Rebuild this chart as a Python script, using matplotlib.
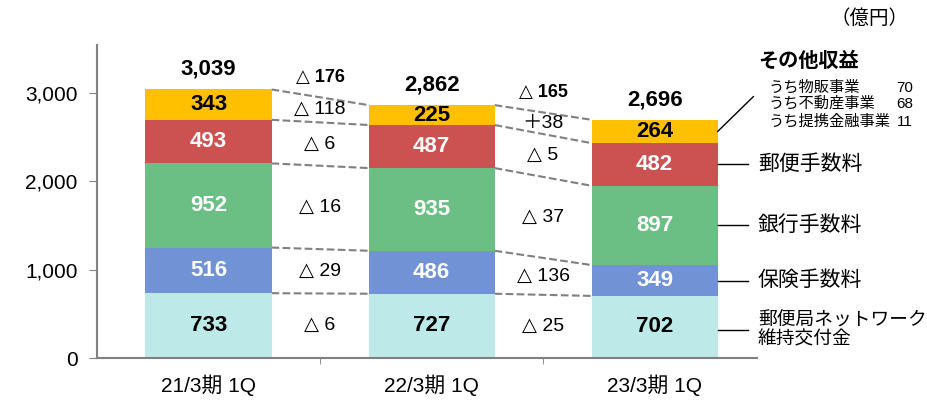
import numpy as np
import matplotlib.pyplot as plt

plt.rcParams['font.family'] = ['Liberation Sans', 'DejaVu Sans', 'Noto Sans CJK JP']

periods = ['21/3期 1Q', '22/3期 1Q', '23/3期 1Q']
network = [733, 727, 702]
insurance = [516, 486, 349]
bank = [952, 935, 897]
postal = [493, 487, 482]
other = [343, 225, 264]
totals = [3039, 2862, 2696]

diff_total = ['△ 176', '△ 165']
diff_other = ['△ 118', '＋38']
diff_postal = ['△ 6', '△ 5']
diff_bank = ['△ 16', '△ 37']
diff_insurance = ['△ 29', '△ 136']
diff_network = ['△ 6', '△ 25']

series = [network, insurance, bank, postal, other]
colors = ['#BDE9E9', '#7292D6', '#6BBF85', '#CC5252', '#FFC000']
text_colors = ['black', 'white', 'white', 'white', 'black']
diffs = [diff_network, diff_insurance, diff_bank, diff_postal, diff_other]
names = ['郵便局ネットワーク\n維持交付金', '保険手数料', '銀行手数料', '郵便手数料']

fig = plt.figure(figsize=(9.28, 4), dpi=100)
ax = fig.add_axes([0.1045, 0.105, 0.7115, 0.7825])

x = np.arange(len(periods))
w = 0.565
bottom = np.zeros(len(periods))
bounds = [bottom.copy()]
for vals, c, tc in zip(series, colors, text_colors):
    vals = np.array(vals, dtype=float)
    ax.bar(x, vals, w, bottom=bottom, color=c, zorder=2)
    for xi, b, v in zip(x, bottom, vals):
        ax.text(xi, b + v / 2, f'{int(v):,}', ha='center', va='center',
                color=tc, fontsize=16, fontweight='bold', zorder=3)
    bottom = bottom + vals
    bounds.append(bottom.copy())

# dashed connectors between bars
for bnd in bounds[1:]:
    for i in range(len(x) - 1):
        ax.plot([x[i] + w / 2, x[i + 1] - w / 2], [bnd[i], bnd[i + 1]],
                ls='--', color='#808080', lw=1.5, zorder=1)

# difference labels in the gaps
for k, labels in enumerate(diffs):
    for i, lab in enumerate(labels):
        m1 = (bounds[k][i] + bounds[k + 1][i]) / 2
        m2 = (bounds[k][i + 1] + bounds[k + 1][i + 1]) / 2
        ax.text(x[i] + 0.5, (m1 + m2) / 2, lab, ha='center', va='center',
                fontsize=14)

for xi, t in zip(x, totals):
    ax.text(xi, t + 225, f'{t:,}', ha='center', va='center', fontsize=16,
            fontweight='bold')
for i, lab in enumerate(diff_total):
    ax.text(x[i] + 0.5, (totals[i] + totals[i + 1]) / 2 + 225, lab,
            ha='center', va='center', fontsize=13, fontweight='bold')

# right-side labels
lx = x[-1] + w / 2
for k, name in enumerate(names):
    yk = (bounds[k][-1] + bounds[k + 1][-1]) / 2
    fs = 15
    if k == 0:
        yk = 317
        fs = 13.5
    ax.plot([lx, lx + 0.135], [yk, yk], color='black', lw=1, clip_on=False)
    ax.text(lx + 0.18, yk, name, ha='left', va='center', fontsize=fs,
            linespacing=1.1)
ax.plot([lx, lx + 0.16], [(bounds[4][-1] + bounds[5][-1]) / 2, 2956],
        color='black', lw=1, clip_on=False)
ax.text(lx + 0.18, 3352, 'その他収益', ha='left', va='center', fontsize=14.5,
        fontweight='bold')
sub = [('うち物販事業', '70'), ('うち不動産事業', '68'), ('うち提携金融事業', '11')]
sub_y = [3058, 2877, 2673]
for (s, v), yy in zip(sub, sub_y):
    ax.text(lx + 0.23, yy, s, ha='left', va='center', fontsize=11)
    ax.text(lx + 0.875, yy, v, ha='right', va='center', fontsize=11)
fig.text(0.937, 0.953, '（億円）', ha='center', va='center', fontsize=14)

ax.set_xlim(-0.5, 2.46)
ax.set_ylim(0, 3540)
ax.set_yticks([0, 1000, 2000, 3000])
ax.set_yticklabels(['0', '1,000', '2,000', '3,000'], fontsize=15)
ax.set_xticks(x)
ax.set_xticklabels(periods, fontsize=15)
ax.set_xticks([0.5, 1.5], minor=True)
ax.tick_params(axis='x', which='major', length=0, pad=12)
ax.tick_params(axis='x', which='minor', length=4, color='#808080')
ax.tick_params(axis='y', length=6, color='#808080', pad=8)
for s in ['top', 'right']:
    ax.spines[s].set_visible(False)
for s in ['left', 'bottom']:
    ax.spines[s].set_color('#808080')
    ax.spines[s].set_linewidth(1.5)

fig.savefig('out.png', dpi=100)
